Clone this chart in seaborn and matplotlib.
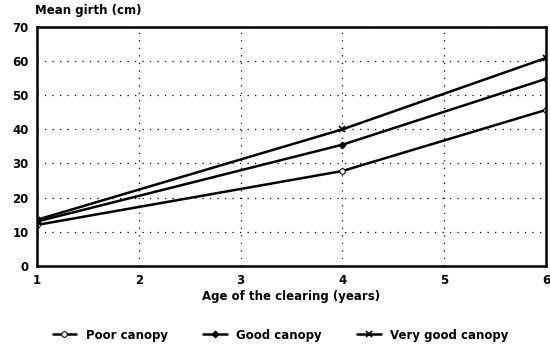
import numpy as np
import pandas as pd
import matplotlib
matplotlib.use("Agg")
import matplotlib.pyplot as plt
import seaborn as sns

# Mean girth by age of the clearing, per canopy class
ages = [1, 4, 6]
poor_canopy = [12.0, 27.8, 45.7]
good_canopy = [13.0, 35.5, 54.8]
very_good_canopy = [13.5, 40.0, 60.9]
series_names = ["Poor canopy", "Good canopy", "Very good canopy"]

x_ticks = [1, 2, 3, 4, 5, 6]
y_ticks = [0, 10, 20, 30, 40, 50, 60, 70]

sns.set_style("white")
plt.rcParams["font.family"] = ["DejaVu Sans"]
plt.rcParams["font.weight"] = "bold"
plt.rcParams["text.color"] = "black"
plt.rcParams["xtick.color"] = "black"
plt.rcParams["ytick.color"] = "black"
plt.rcParams["axes.labelcolor"] = "black"

fig = plt.figure(figsize=(5.5, 3.49), dpi=100)
ax = fig.add_axes([0.067, 0.238, 0.926, 0.685])

marker_styles = [
    dict(marker="o", markerfacecolor="white", markeredgecolor="black", markersize=4),
    dict(marker="D", markerfacecolor="black", markeredgecolor="black", markersize=3.5),
    dict(marker="x", markeredgecolor="black", markersize=4.5, markeredgewidth=1.2),
]
for values, name, mstyle in zip([poor_canopy, good_canopy, very_good_canopy],
                                series_names, marker_styles):
    sns.lineplot(x=ages, y=values, color="black", linewidth=1.8,
                 label=name, ax=ax, **mstyle)

ax.set_xlim(1, 6)
ax.set_ylim(0, 70)
ax.set_xticks(x_ticks)
ax.set_yticks(y_ticks)
ax.tick_params(axis="both", length=0, labelsize=8.5, pad=6)
for lab in ax.get_xticklabels() + ax.get_yticklabels():
    lab.set_fontweight("heavy")

# sparse dotted grid
ax.grid(True, color="black", linestyle=(0, (1, 5)), linewidth=0.9)
for sp in ax.spines.values():
    sp.set_visible(True)
    sp.set_color("black")
    sp.set_linewidth(1.8)

ax.set_xlabel("Age of the clearing (years)", fontsize=8.5, fontweight="heavy", labelpad=2)
ax.set_ylabel("")
fig.text(0.064, 0.97, "Mean girth (cm)", fontsize=8.5, fontweight="heavy", ha="left", va="center")

handles, labels = ax.get_legend_handles_labels()
ax.legend_.remove()
fig.legend(handles, labels, loc="center", bbox_to_anchor=(0.51, 0.04), ncol=3,
           frameon=False, handlelength=2.0, columnspacing=3.0,
           prop={"weight": "heavy", "size": 8.5})

fig.savefig("out.png", dpi=100)
